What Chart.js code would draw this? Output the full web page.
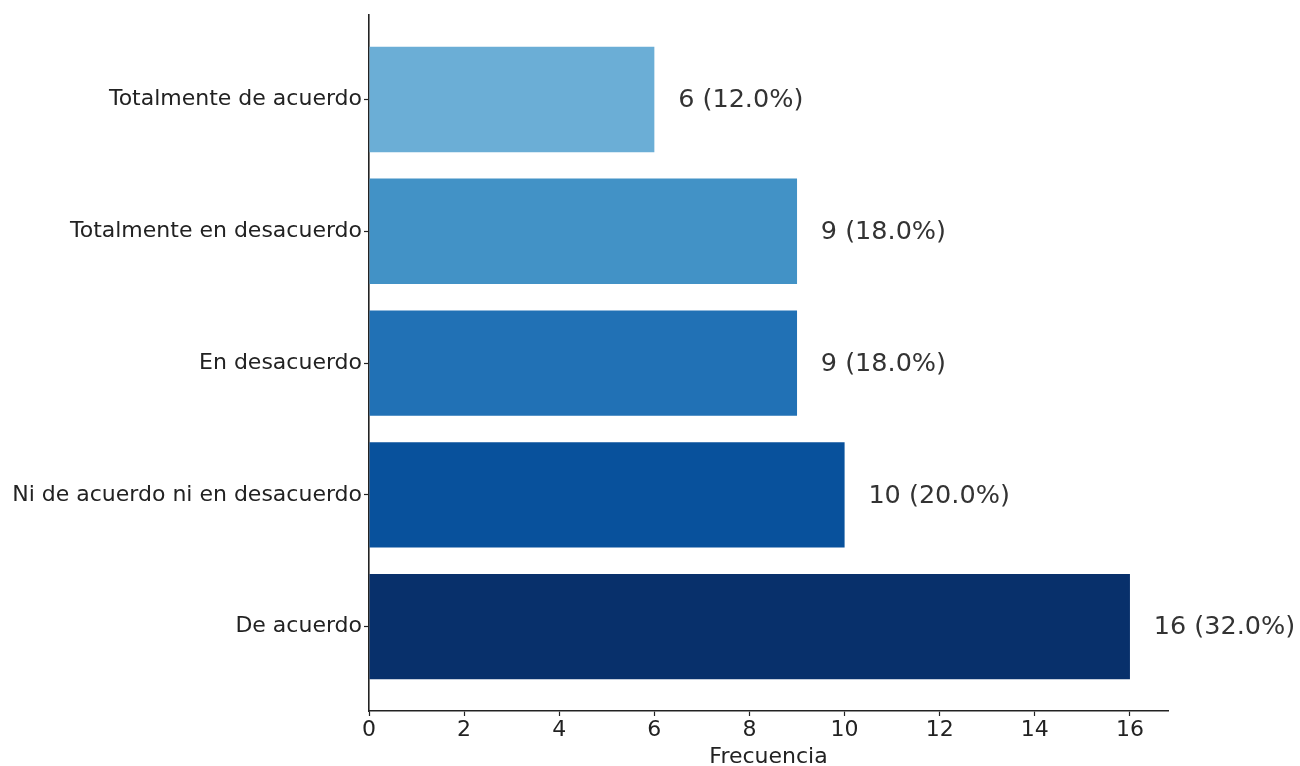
<!DOCTYPE html>
<html>
<head>
<meta charset="utf-8">
<script src="https://cdn.jsdelivr.net/npm/chart.js@4.4.1/dist/chart.umd.min.js"></script>
<style>
  html, body { margin: 0; padding: 0; background: #fff; }
  #wrap { width: 1300px; height: 766px; }
</style>
</head>
<body>
<div id="wrap"><canvas id="c" width="1300" height="766"></canvas></div>
<script>
// Responses, listed from top to bottom
const categories = [
  'Totalmente de acuerdo',
  'Totalmente en desacuerdo',
  'En desacuerdo',
  'Ni de acuerdo ni en desacuerdo',
  'De acuerdo'
];
const counts = [6, 9, 9, 10, 16];
const percents = [12.0, 18.0, 18.0, 20.0, 32.0];
const barColors = ['#6baed6', '#4292c6', '#2171b5', '#08519c', '#08306b'];
const xTicks = [0, 2, 4, 6, 8, 10, 12, 14, 16];

const points = counts.map((v, i) => ({ x: v, y: i }));

// Text "n (p%)" placed just right of each bar
const valueLabels = {
  id: 'valueLabels',
  afterDatasetsDraw(chart) {
    const { ctx, scales } = chart;
    ctx.save();
    ctx.font = '25.5px "DejaVu Sans"';
    ctx.fillStyle = '#333333';
    ctx.textAlign = 'left';
    ctx.textBaseline = 'middle';
    counts.forEach((v, i) => {
      const px = scales.x.getPixelForValue(v + 0.5);
      const py = scales.y.getPixelForValue(i) + 1;
      ctx.fillText(v + ' (' + percents[i].toFixed(1) + '%)', px, py);
    });
    ctx.restore();
  }
};

new Chart(document.getElementById('c'), {
  type: 'bar',
  data: {
    datasets: [{
      data: points,
      backgroundColor: barColors,
      borderWidth: 0,
      barPercentage: 0.8,
      categoryPercentage: 1.0
    }]
  },
  options: {
    indexAxis: 'y',
    responsive: false,
    animation: false,
    layout: { padding: { left: 0, right: 132, top: 15, bottom: 0 } },
    plugins: { legend: { display: false }, tooltip: { enabled: false } },
    scales: {
      x: {
        type: 'linear',
        min: 0,
        max: 16.8,
        afterBuildTicks(scale) { scale.ticks = xTicks.map(v => ({ value: v })); },
        afterFit(scale) { scale.height = 55; },
        grid: { display: true, drawOnChartArea: false, drawTicks: true, tickLength: 5, tickColor: '#222', tickWidth: 1.2 },
        border: { display: true, color: '#222', width: 1.6 },
        ticks: { color: '#222', font: { family: 'DejaVu Sans', size: 22 }, padding: 1, maxRotation: 0 },
        title: { display: true, text: 'Frecuencia', color: '#222', font: { family: 'DejaVu Sans', size: 22, lineHeight: 1.0 }, padding: { top: 0, bottom: -2 } }
      },
      y: {
        type: 'linear',
        reverse: true,
        offset: false,
        min: -0.64,
        max: 4.64,
        afterBuildTicks(scale) { scale.ticks = categories.map((_, i) => ({ value: i })); },
        afterFit(scale) { scale.width = 369; },
        grid: { display: true, offset: false, drawOnChartArea: false, drawTicks: true, tickLength: 5, tickColor: '#222', tickWidth: 1.2 },
        border: { display: true, color: '#222', width: 1.6 },
        ticks: {
          color: '#222',
          font: { family: 'DejaVu Sans', size: 22 },
          padding: 2,
          callback: (v) => categories[v]
        }
      }
    }
  },
  plugins: [valueLabels]
});
</script>
</body>
</html>
